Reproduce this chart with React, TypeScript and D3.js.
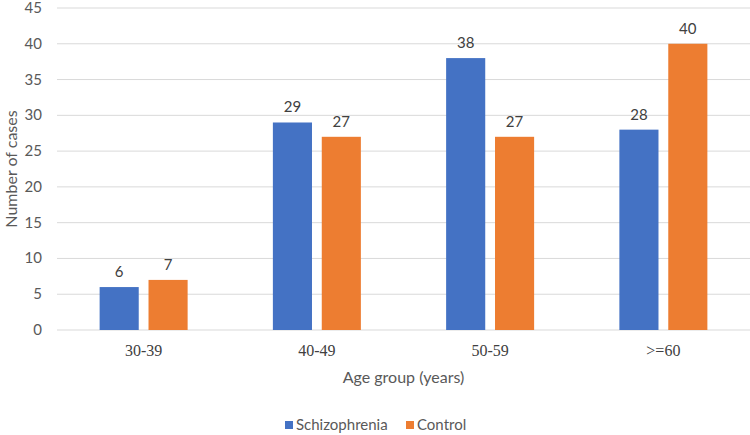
import React, { useEffect, useRef } from "react";
import * as d3 from "d3";

const categories = ["30-39", "40-49", "50-59", ">=60"];
const seriesNames = ["Schizophrenia", "Control"];
const schizophrenia = [6, 29, 38, 28];
const control = [7, 27, 27, 40];
const yTicks = [0, 5, 10, 15, 20, 25, 30, 35, 40, 45];
const colors = ["#4472C4", "#ED7D31"];

const App = () => {
  const ref = useRef<SVGSVGElement>(null);

  useEffect(() => {
    const width = 750;
    const height = 435;
    const margin = { top: 8, right: 0, bottom: 105, left: 57 };
    const sans = "Lato, 'Open Sans', sans-serif";

    d3.select(ref.current).selectAll("*").remove();
    const svg = d3.select(ref.current).attr("width", width).attr("height", height);

    const x0 = d3.scaleBand().domain(categories).range([margin.left, width - margin.right]);
    const y = d3.scaleLinear().domain([0, 45]).range([height - margin.bottom, margin.top]);

    // grille
    svg.append("g")
      .selectAll("line")
      .data(yTicks)
      .enter()
      .append("line")
      .attr("x1", margin.left)
      .attr("x2", width - margin.right)
      .attr("y1", d => y(d))
      .attr("y2", d => y(d))
      .attr("stroke", "#d9d9d9")
      .attr("stroke-width", 1);

    // étiquettes axe Y
    svg.append("g")
      .selectAll("text")
      .data(yTicks)
      .enter()
      .append("text")
      .attr("x", 42)
      .attr("y", d => y(d))
      .attr("dy", "0.33em")
      .attr("text-anchor", "end")
      .attr("font-family", sans)
      .attr("font-size", 15)
      .attr("fill", "#595959")
      .text(d => d);

    const data = categories.map((c, i) => ({ cat: c, values: [schizophrenia[i], control[i]] }));

    const groups = svg.append("g")
      .selectAll("g")
      .data(data)
      .enter()
      .append("g")
      .attr("transform", d => `translate(${x0(d.cat)! + x0.bandwidth() / 2 - 44},0)`);

    const x1 = d3.scaleBand().domain(seriesNames).range([0, 88]).paddingInner(0.2);

    groups.selectAll("rect")
      .data(d => d.values.map((v, j) => ({ key: seriesNames[j], v, j })))
      .enter()
      .append("rect")
      .attr("x", d => x1(d.key)!)
      .attr("y", d => y(d.v))
      .attr("width", x1.bandwidth())
      .attr("height", d => y(0) - y(d.v))
      .attr("fill", d => colors[d.j]);

    groups.selectAll("text")
      .data(d => d.values.map((v, j) => ({ key: seriesNames[j], v })))
      .enter()
      .append("text")
      .attr("x", d => x1(d.key)! + x1.bandwidth() / 2)
      .attr("y", d => y(d.v) - 10)
      .attr("text-anchor", "middle")
      .attr("font-family", sans)
      .attr("font-size", 15)
      .attr("fill", "#404040")
      .text(d => d.v);

    // étiquettes catégories (police à empattements comme l'original)
    svg.append("g")
      .selectAll("text")
      .data(categories)
      .enter()
      .append("text")
      .attr("x", d => x0(d)! + x0.bandwidth() / 2)
      .attr("y", 356)
      .attr("text-anchor", "middle")
      .style("font-family", "'Times New Roman', 'Liberation Serif', serif")
      .attr("font-size", 16)
      .attr("fill", "#404040")
      .text(d => d);

    // titres
    svg.append("text")
      .attr("x", (margin.left + width - margin.right) / 2)
      .attr("y", 383)
      .attr("text-anchor", "middle")
      .attr("font-family", sans)
      .attr("font-size", 16)
      .attr("fill", "#595959")
      .text("Age group (years)");

    svg.append("text")
      .attr("transform", "rotate(-90)")
      .attr("x", -(y(0) + y(45)) / 2)
      .attr("y", 17)
      .attr("text-anchor", "middle")
      .attr("font-family", sans)
      .attr("font-size", 16)
      .attr("fill", "#595959")
      .text("Number of cases");

    // légende
    const legendX = [285, 406];
    const legend = svg.append("g")
      .selectAll("g")
      .data(seriesNames)
      .enter()
      .append("g")
      .attr("transform", (d, i) => `translate(${legendX[i]},425)`);
    legend.append("rect")
      .attr("x", 0)
      .attr("y", -4)
      .attr("width", 8)
      .attr("height", 8)
      .attr("fill", (d, i) => colors[i]);
    legend.append("text")
      .attr("x", 11)
      .attr("dy", "0.35em")
      .attr("font-family", sans)
      .attr("font-size", 15)
      .attr("fill", "#595959")
      .text(d => d);
  }, []);

  return (
    <div style={{ position: "absolute", left: 0, top: 0 }}>
      <svg ref={ref} style={{ display: "block" }}></svg>
    </div>
  );
};

export default App;
